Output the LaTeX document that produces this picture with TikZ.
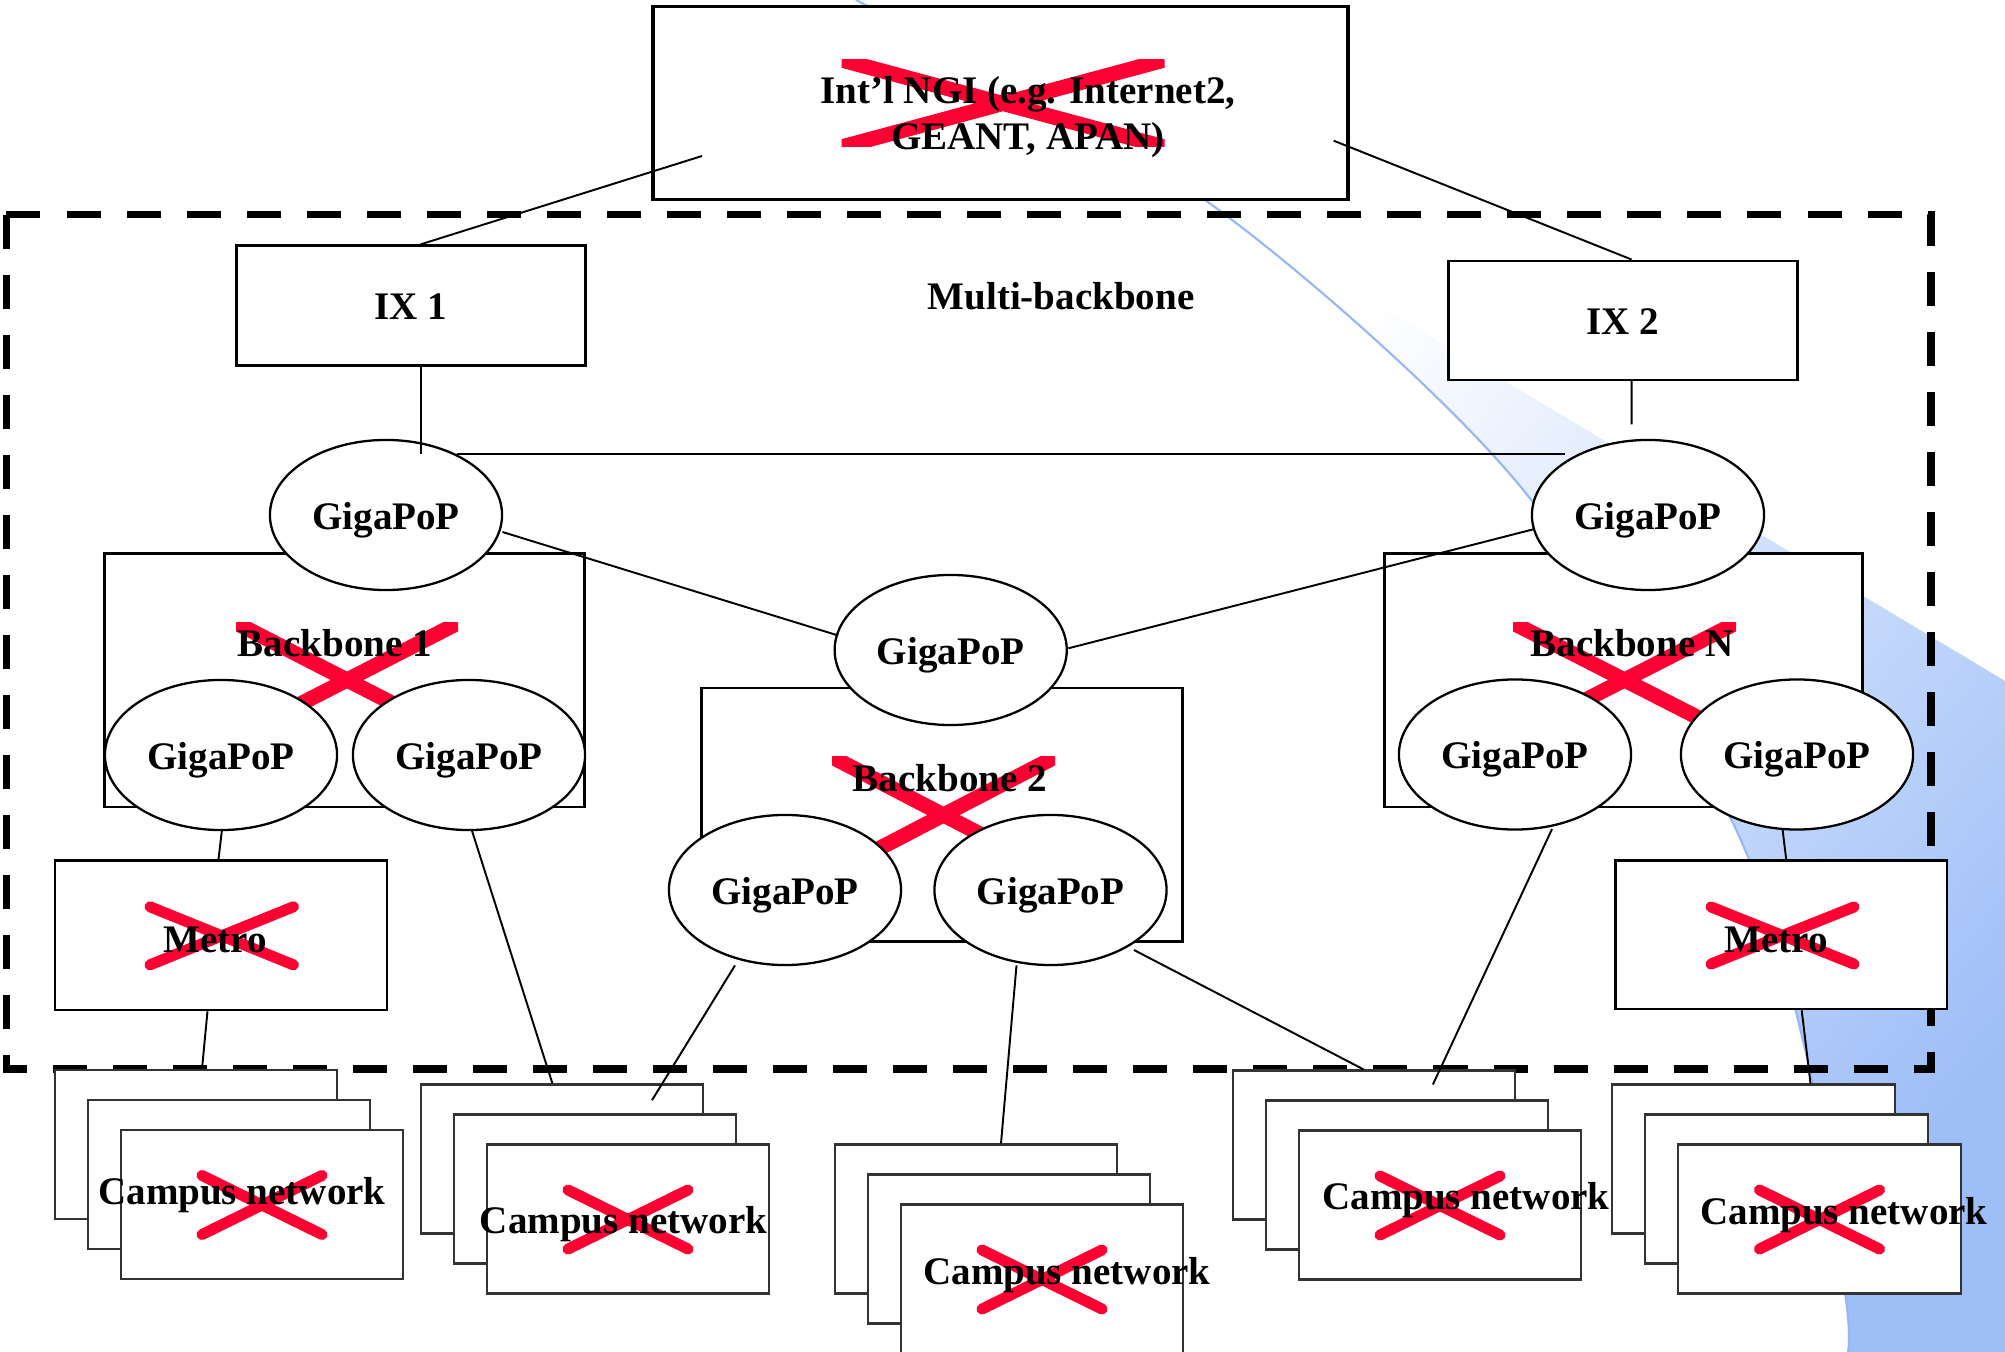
\documentclass[tikz,border=0pt]{standalone}
\usepackage{fontspec}
\setmainfont{Liberation Serif}
\usetikzlibrary{shapes.geometric,calc}

\definecolor{xred}{RGB}{255,0,51}
\definecolor{skyblue}{RGB}{158,190,248}
\definecolor{curveblue}{RGB}{150,182,245}

% red cross with ends cut square by its own bounding box
\newcommand\redcross[5]{%
  \begin{scope}
    \clip ({#1-#3},{#2-#4}) rectangle ({#1+#3},{#2+#4});
    \draw[xred, line width=#5*0.2845pt]
      ({#1-#3},{#2-#4}) -- ({#1+#3},{#2+#4})
      ({#1-#3},{#2+#4}) -- ({#1+#3},{#2-#4});
  \end{scope}}
% red cross with rounded ends
\newcommand\softcross[5]{%
  \draw[xred, line width=#5*0.2845pt, line cap=round]
    ({#1-#3+0.45*#5},{#2-#4+0.45*#5}) -- ({#1+#3-0.45*#5},{#2+#4-0.45*#5})
    ({#1-#3+0.45*#5},{#2+#4-0.45*#5}) -- ({#1+#3-0.45*#5},{#2-#4+0.45*#5});}
% three stacked campus boxes: name, top-left of back box, label shift
\newcommand\campusstack[5]{%
  \node[campusbox] (#1-back)  at ({#2+141},{#3+74.5}) {};
  \node[campusbox] (#1-mid)   at ({#2+174},{#3+104.5}) {};
  \node[campusbox] (#1-front) at ({#2+207},{#3+134.5}) {};
  \softcross{#2+207}{#3+135}{65}{34.5}{11}
  \node[txt] (#1-label) at ({#2+207+#4},{#3+134.5+#5}) {Campus network};}

\begin{document}
\begin{tikzpicture}[x=0.01cm, y=-0.01cm,
  every node/.append style={font=\fontsize{11.1}{13.1}\selectfont\bfseries},
  txt/.style={inner sep=0pt, text height=8pt, text depth=0pt},
  box/.style={draw=black, line width=0.7pt, fill=white, inner sep=0pt,
              text height=8pt, text depth=0pt},
  campusbox/.style={draw=black!80, line width=0.6pt, fill=white,
              minimum width=2.82cm, minimum height=1.49cm},
  pop/.style={ellipse, draw=black, line width=0.65pt, fill=white, inner sep=0pt,
              minimum width=2.32cm, minimum height=1.50cm,
              text height=8pt, text depth=0pt},
  link/.style={draw=black, line width=0.55pt},
  frame/.style={draw=black, line width=2.1pt, dash pattern=on 0.34cm off 0.26cm}]

\useasboundingbox (0,0) rectangle (2005,1352);
\fill[white] (0,0) rectangle (2005,1352);

% shaded backdrop on the right
\begin{scope}
  \clip plot[smooth] coordinates {(856,0) (1212,205) (1515,480) (1730,817) (1810,1070) (1846,1300) (1848,1352)}
        -- (2005,1352) -- (2005,0) -- cycle;
  \clip (1100,138) -- (2005,681) -- (2005,1352) -- (1100,1352) -- cycle;
  \shade[top color=white, bottom color=skyblue, shading angle=50] (1200,200) rectangle (2005,1352);
\end{scope}
\draw[curveblue, line width=0.6pt] plot[smooth] coordinates {(856,0) (1212,205) (1515,480) (1730,817) (1810,1070) (1846,1300) (1848,1352)};

% multi-backbone region
\draw[frame] (6.4,214.8) rectangle (1930.8,1069);

% international NGI
\node[box, line width=1.1pt, minimum width=6.94cm, minimum height=1.93cm] (ngi) at (1000.6,103) {};
\redcross{1003}{103.5}{161.5}{43.5}{15}
\node[inner sep=0pt, align=center] (ngitext) at (1028,117) {Int’l NGI (e.g. Internet2,\\GEANT, APAN)};

% exchange points
\node[box, minimum width=3.49cm, minimum height=1.20cm] (ix1) at (411,305.6) {IX 1};
\node[box, minimum width=3.49cm, minimum height=1.19cm] (ix2) at (1623,320.3) {IX 2};
\node[txt] (mbtitle) at (1061,295.4) {Multi-backbone};

% backbones
\node[box, line width=0.8pt, minimum width=4.795cm, minimum height=2.532cm] (bb1) at (344.7,680.3) {};
\redcross{347}{680}{111}{57}{15}
\node[txt] (bb1text) at (335,642.5) {Backbone 1};

\node[box, line width=0.8pt, minimum width=4.80cm, minimum height=2.535cm] (bb2) at (942,814.8) {};
\redcross{943.5}{815}{111.5}{58}{15}
\node[txt] (bb2text) at (950,777.5) {Backbone 2};

\node[box, line width=0.8pt, minimum width=4.77cm, minimum height=2.533cm] (bbN) at (1623.5,680.3) {};
\redcross{1624.5}{680}{111.5}{57}{15}
\node[txt] (bbNtext) at (1632,642.5) {Backbone N};

% GigaPoPs
\node[pop] (gT1) at (386,515) {GigaPoP};
\node[pop] (gT2) at (1648,515) {GigaPoP};
\node[pop] (gC)  at (950.7,650) {GigaPoP};
\node[pop] (b1L) at (221,755) {GigaPoP};
\node[pop] (b1R) at (469,755) {GigaPoP};
\node[pop] (b2L) at (785,890) {GigaPoP};
\node[pop] (b2R) at (1050.5,890) {GigaPoP};
\node[pop] (bNL) at (1515,754.5) {GigaPoP};
\node[pop] (bNR) at (1797,754.5) {GigaPoP};

% metro networks
\node[box, minimum width=3.32cm, minimum height=1.494cm] (mL) at (221,935.3) {};
\softcross{221.7}{935.8}{76.7}{34}{11}
\node[txt] (mLtext) at (215,938) {Metro};
\node[box, minimum width=3.31cm, minimum height=1.484cm] (mR) at (1781.2,934.8) {};
\softcross{1782.5}{935.5}{76.5}{33.5}{11}
\node[txt] (mRtext) at (1776,938) {Metro};

% campus networks
\campusstack{csA}{55}{1070}{-20}{-14.5}
\campusstack{csB}{421}{1084.5}{-4.4}{0.7}
\campusstack{csC}{835}{1144.5}{25}{-9}
\campusstack{csD}{1233}{1070.5}{26}{-10}
\campusstack{csE}{1612.5}{1084.5}{24.5}{-9}

% links
\draw[link] ($(ngi)+(-298.6,53)$) -- ($(ix1.north)+(9.7,0)$);
\draw[link] ($(ngi)+(333.1,37.7)$) -- ($(ix2.north)+(8.6,0)$);
\draw[link] ($(ix1.south)+(9.7,0)$) -- ($(gT1)+(34.7,-61)$);
\draw[link] ($(ix2.south)+(8.6,0)$) -- ($(gT2)+(-16.4,-90.5)$);
\draw[link] ($(gT1)+(70.5,-61)$) -- ($(gT2)+(-83,-61)$);
\draw[link] ($(gT1)+(116.5,17)$) -- ($(gC)+(-112.5,-14.5)$);
\draw[link] ($(gT2)+(-115,14.4)$) -- ($(gC)+(117.7,-1.7)$);
\draw[link] ($(b1L)+(1,74.6)$) -- ($(mL.north)+(-2.5,0)$);
\draw[link] ($(mL.south)+(-13.5,0)$) -- ($(csA-back.north)+(6,0)$);
\draw[link] ($(b1R)+(2.6,74.6)$) -- ($(csB-back.north)+(-9.6,0)$);
\draw[link] ($(b2L)+(-50,75.4)$) -- ($(csB-back)+(90,-58.8)$);
\draw[link] ($(b2R)+(-34,75.4)$) -- ($(csC-back.north)+(25,0)$);
\draw[link] ($(b2R)+(83.5,60)$) -- ($(csD-back.north)+(-10.5,0)$);
\draw[link] ($(bNL)+(37,74.6)$) -- ($(csD-back)+(58.9,-60.5)$);
\draw[link] ($(bNR)+(-14.5,74.6)$) -- ($(mR.north)+(5,0)$);
\draw[link] ($(mR.south)+(20.5,0)$) -- ($(csE-back.north)+(57,0)$);
\end{tikzpicture}
\end{document}
